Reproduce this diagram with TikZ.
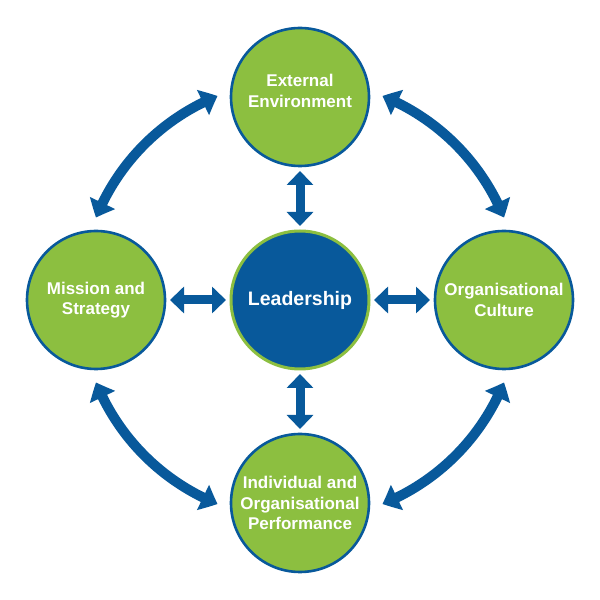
\documentclass[tikz,border=0pt]{standalone}
\usepackage{fontspec}
\setmainfont{Liberation Sans}
\usetikzlibrary{arrows.meta,bending,calc}
\definecolor{dblue}{RGB}{8,89,155}
\definecolor{lgreen}{RGB}{140,191,64}
\tikzset{
  topic/.style={circle, fill=lgreen, draw=dblue, line width=2.6pt, minimum size=138pt, inner sep=0pt, outer sep=0pt,
    text=white, font=\fontsize{17}{20.5}\selectfont\bfseries, align=center},
  topictext/.style={text=white, font=\fontsize{17}{20.5}\selectfont\bfseries, align=center, inner sep=0pt},
  core/.style={circle, fill=dblue, draw=lgreen, line width=3pt, minimum size=138pt, inner sep=0pt, outer sep=0pt,
    text=white, font=\fontsize{19.5}{23}\selectfont\bfseries, align=center},
  straightarrow/.style={draw=dblue, line width=9pt, {Triangle[width=26pt,length=14pt]}-{Triangle[width=26pt,length=14pt]}, shorten <=5pt, shorten >=5pt},
  curvedarrow/.style={draw=dblue, line width=10pt, {Triangle[width=27pt,length=16pt,bend]}-{Triangle[width=27pt,length=16pt,bend]}}
}
\begin{document}
\begin{tikzpicture}[x=1pt,y=1pt]
\fill[white] (0,0) rectangle (600,600);
\useasboundingbox (0,0) rectangle (600,600);
\node[core] (lead) at (300,300) {Leadership};
\node[topic] (ext) at (300,503) {};
\node[topictext] (exttext) at ([yshift=6pt]ext.center) {External\\Environment};
\node[topic] (mis) at (96,300) {Mission and\\Strategy};
\node[topic] (org) at (504,300) {Organisational\\Culture};
\node[topic] (ind) at (300,97) {Individual and\\Organisational\\Performance};
\draw[straightarrow] (ext.south) -- (lead.north);
\draw[straightarrow] (ind.north) -- (lead.south);
\draw[straightarrow] (mis.east) -- (lead.west);
\draw[straightarrow] (org.west) -- (lead.east);
\draw[curvedarrow] ($(lead)+(112:220)$) arc[start angle=112, end angle=158, radius=220];
\draw[curvedarrow] ($(lead)+(68:220)$) arc[start angle=68, end angle=22, radius=220];
\draw[curvedarrow] ($(lead)+(-22:220)$) arc[start angle=-22, end angle=-68, radius=220];
\draw[curvedarrow] ($(lead)+(-112:220)$) arc[start angle=-112, end angle=-158, radius=220];
\end{tikzpicture}
\end{document}
